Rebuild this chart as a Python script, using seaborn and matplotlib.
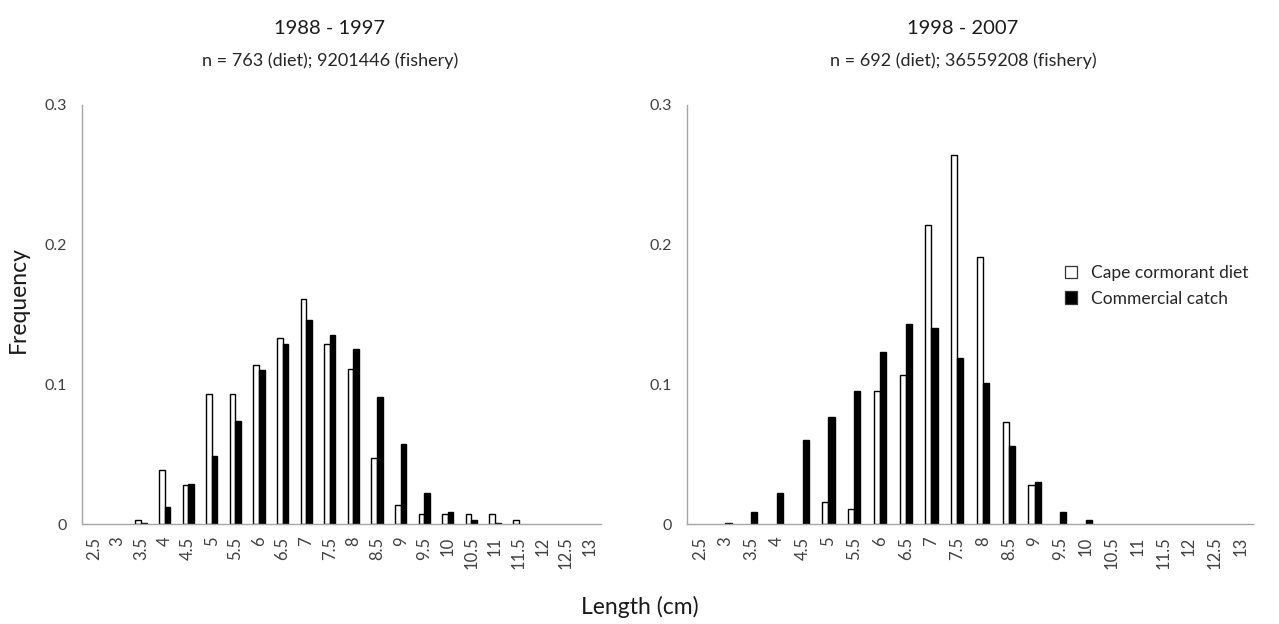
import matplotlib
matplotlib.use("Agg")
import matplotlib.pyplot as plt
from matplotlib.patches import Patch
import seaborn as sns
import pandas as pd

# Length classes (cm)
lengths = ["2.5", "3", "3.5", "4", "4.5", "5", "5.5", "6", "6.5", "7", "7.5",
           "8", "8.5", "9", "9.5", "10", "10.5", "11", "11.5", "12", "12.5", "13"]

# 1988 - 1997 length-frequency
diet_1988 = [0, 0, 0.003, 0.039, 0.028, 0.093, 0.093, 0.114, 0.133, 0.161, 0.129,
             0.111, 0.047, 0.014, 0.007, 0.007, 0.007, 0.007, 0.003, 0, 0, 0]
catch_1988 = [0, 0, 0.001, 0.012, 0.029, 0.049, 0.074, 0.110, 0.129, 0.146, 0.135,
              0.125, 0.091, 0.057, 0.022, 0.009, 0.003, 0.001, 0, 0, 0, 0]

# 1998 - 2007 length-frequency
diet_1998 = [0, 0, 0, 0, 0, 0.016, 0.011, 0.095, 0.107, 0.214, 0.264,
             0.191, 0.073, 0.028, 0, 0, 0, 0, 0, 0, 0, 0]
catch_1998 = [0, 0.001, 0.009, 0.022, 0.060, 0.077, 0.095, 0.123, 0.143, 0.140, 0.119,
              0.101, 0.056, 0.030, 0.009, 0.003, 0, 0, 0, 0, 0, 0]

series_names = ["Cape cormorant diet", "Commercial catch"]
periods = ["1988 - 1997", "1998 - 2007"]
sample_sizes = ["n = 763 (diet); 9201446 (fishery)",
                "n = 692 (diet); 36559208 (fishery)"]
y_ticks = [0, 0.1, 0.2, 0.3]
y_tick_labels = ["0", "0.1", "0.2", "0.3"]


def long_table(diet, catch):
    return pd.DataFrame({
        "Length": lengths * 2,
        "Series": [series_names[0]] * len(lengths) + [series_names[1]] * len(lengths),
        "Frequency": list(diet) + list(catch),
    })


sns.set_theme(style="white")
plt.rcParams["font.family"] = ["Lato", "DejaVu Sans"]

fig = plt.figure(figsize=(12.79, 6.24), dpi=100)
ax_left = fig.add_axes([0.0641, 0.160, 0.406, 0.672])
ax_right = fig.add_axes([0.537, 0.160, 0.443, 0.672])

palette = {series_names[0]: "white", series_names[1]: "black"}
axis_grey = "#a6a6a6"
text_grey = "#404040"

for ax, (diet, catch) in zip([ax_left, ax_right],
                             [(diet_1988, catch_1988), (diet_1998, catch_1998)]):
    df = long_table(diet, catch)
    sns.barplot(data=df, x="Length", y="Frequency", hue="Series", order=lengths,
                hue_order=series_names, palette=palette, edgecolor="black",
                linewidth=1.0, width=0.47, ax=ax, legend=False)
    # empty classes leave no outline on the axis
    for patch in ax.patches:
        if patch.get_height() == 0:
            patch.set_linewidth(0)
    ax.set_xlim(-0.5, len(lengths) - 0.5)
    ax.set_ylim(0, 0.3)
    ax.set_yticks(y_ticks)
    ax.set_yticklabels(y_tick_labels)
    ax.set_xlabel("")
    ax.set_ylabel("")
    for side in ["top", "right"]:
        ax.spines[side].set_visible(False)
    for side in ["left", "bottom"]:
        ax.spines[side].set_color(axis_grey)
        ax.spines[side].set_linewidth(1.0)
    ax.tick_params(axis="x", labelrotation=90, labelsize=12, length=0, pad=9,
                   labelcolor=text_grey)
    ax.tick_params(axis="y", labelsize=11.5, length=0, pad=11, labelcolor=text_grey)

handles = [Patch(facecolor=palette[name], edgecolor="#333333", linewidth=0.9)
           for name in series_names]
fig.legend(handles, series_names, loc="center left", bbox_to_anchor=(0.826, 0.542),
           bbox_transform=fig.transFigure, frameon=False, fontsize=12.5,
           handlelength=0.7, handleheight=0.7, handletextpad=0.8,
           labelspacing=0.55, borderpad=0, labelcolor="#262626")

# Panel headings
fig.text(0.258, 0.955, periods[0], ha="center", va="center", fontsize=14.5, color="#1a1a1a")
fig.text(0.258, 0.902, sample_sizes[0], ha="center", va="center", fontsize=13, color="#262626")
fig.text(0.753, 0.955, periods[1], ha="center", va="center", fontsize=14.5, color="#1a1a1a")
fig.text(0.753, 0.902, sample_sizes[1], ha="center", va="center", fontsize=13, color="#262626")

# Shared axis titles
fig.text(0.014, 0.52, "Frequency", rotation=90, ha="center", va="center",
         fontsize=16.5, color="#1a1a1a")
fig.text(0.5, 0.027, "Length (cm)", ha="center", va="center", fontsize=16.5, color="#1a1a1a")

fig.savefig("out.png", dpi=100, facecolor="white")
